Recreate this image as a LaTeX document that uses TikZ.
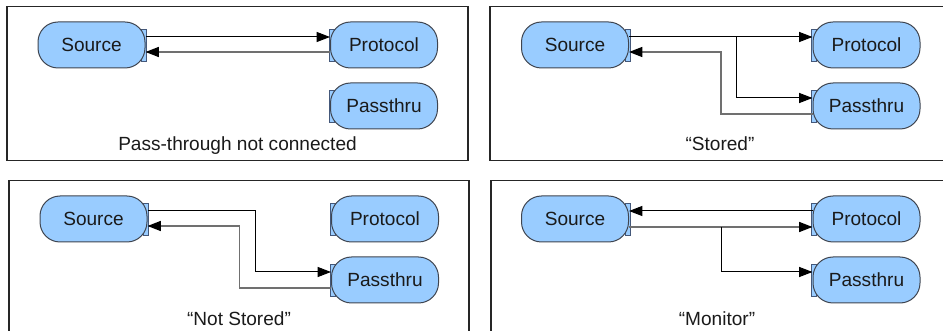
\documentclass[tikz,border=0pt]{standalone}
\usepackage{fontspec}
\setmainfont{Liberation Sans}
\usetikzlibrary{arrows.meta,calc,backgrounds}
\definecolor{blockfill}{HTML}{99CCFF}
\definecolor{blockline}{HTML}{3F4550}
\definecolor{portline}{HTML}{44587A}
\definecolor{textcol}{HTML}{1A1A1A}
\definecolor{retline}{HTML}{707070}
% port stubs drawn behind the blocks
\newcommand\rightport[1]{\draw[portbox] ($(#1.east)+(-4,-16)$) rectangle ($(#1.east)+(1,16)$);}
\newcommand\leftport[1]{\draw[portbox] ($(#1.west)+(-1,-16)$) rectangle ($(#1.west)+(4,16)$);}
\begin{document}
\begin{tikzpicture}[x=0.75pt,y=-0.75pt,
  blk/.style={draw=blockline, line width=0.75pt, fill=blockfill, rounded corners=15pt,
    minimum width=80.25pt, minimum height=34.5pt, inner sep=0pt,
    font=\fontsize{14.3}{16}\selectfont, text=textcol},
  panel/.style={draw=black!85, line width=0.9pt},
  portbox/.style={draw=portline, fill=blockfill, line width=0.7pt},
  wire/.style={draw=black, line width=0.75pt},
  ret/.style={draw=retline, line width=1pt},
  arr/.style={-{Triangle[length=10pt,width=7.5pt,color=black]}},
  caption/.style={anchor=base, font=\fontsize{14.3}{16}\selectfont, text=textcol}
]
\clip (0,0) rectangle (943,331);

% frames
\draw[panel] (7,6.5) rectangle (468,160.5);
\draw[panel] (490,6.5) rectangle (951,160.5);
\draw[panel] (9,180.5) rectangle (469,345);
\draw[panel] (491,180.5) rectangle (952,345);

% blocks
\node[blk] (s1) at (91.5,45) {Source};
\node[blk] (p1) at (384,45) {Protocol};
\node[blk] (t1) at (384,106) {Passthru};

\node[blk] (s2) at (575,45) {Source};
\node[blk] (p2) at (866.5,45) {Protocol};
\node[blk] (t2) at (866.5,106) {Passthru};

\node[blk] (s3) at (93.5,219) {Source};
\node[blk] (p3) at (385,219) {Protocol};
\node[blk] (t3) at (385,280) {Passthru};

\node[blk] (s4) at (575,219) {Source};
\node[blk] (p4) at (866.5,219) {Protocol};
\node[blk] (t4) at (866.5,280) {Passthru};

\begin{pgfonlayer}{background}
  \foreach \n in {s1,s2,s3,s4} {\rightport{\n}}
  \foreach \n in {p1,t1,p2,t2,p3,t3,p4,t4} {\leftport{\n}}
\end{pgfonlayer}

% pass-through not connected
\draw[wire,arr] ($(s1.east)+(0,-8)$) -- ($(p1.west)+(0,-8)$);
\draw[ret,arr] ($(p1.west)+(0,7)$) -- ($(s1.east)+(0,7)$);

% stored
\coordinate (j2) at ($(s2.east)+(107,-8)$);
\draw[wire,arr] ($(s2.east)+(0,-8)$) -- ($(p2.west)+(0,-8)$);
\draw[wire,arr] (j2) |- ($(t2.west)+(0,-8)$);
\draw[ret,arr] ($(t2.west)+(0,8)$) -| ($(s2.east)+(92,7)$) -- ($(s2.east)+(0,7)$);

% not stored
\coordinate (k3) at ($(s3.east)+(108,-8)$);
\draw[wire,arr] ($(s3.east)+(0,-8)$) -- (k3) |- ($(t3.west)+(0,-8)$);
\draw[ret,arr] ($(t3.west)+(0,8)$) -| ($(s3.east)+(92,7)$) -- ($(s3.east)+(0,7)$);

% monitor
\coordinate (j4) at ($(s4.east)+(92,8)$);
\draw[wire,arr] ($(p4.west)+(0,-8)$) -- ($(s4.east)+(0,-8)$);
\draw[ret,arr] ($(s4.east)+(0,8)$) -- ($(p4.west)+(0,8)$);
\draw[wire,arr] (j4) |- ($(t4.west)+(0,-8)$);

% captions
\node[caption] (c1) at (237.5,151) {Pass-through not connected};
\node[caption] (c2) at (720,151) {“Stored”};
\node[caption] (c3) at (239,325.5) {“Not Stored”};
\node[caption] (c4) at (717,325.5) {“Monitor”};
\end{tikzpicture}
\end{document}
